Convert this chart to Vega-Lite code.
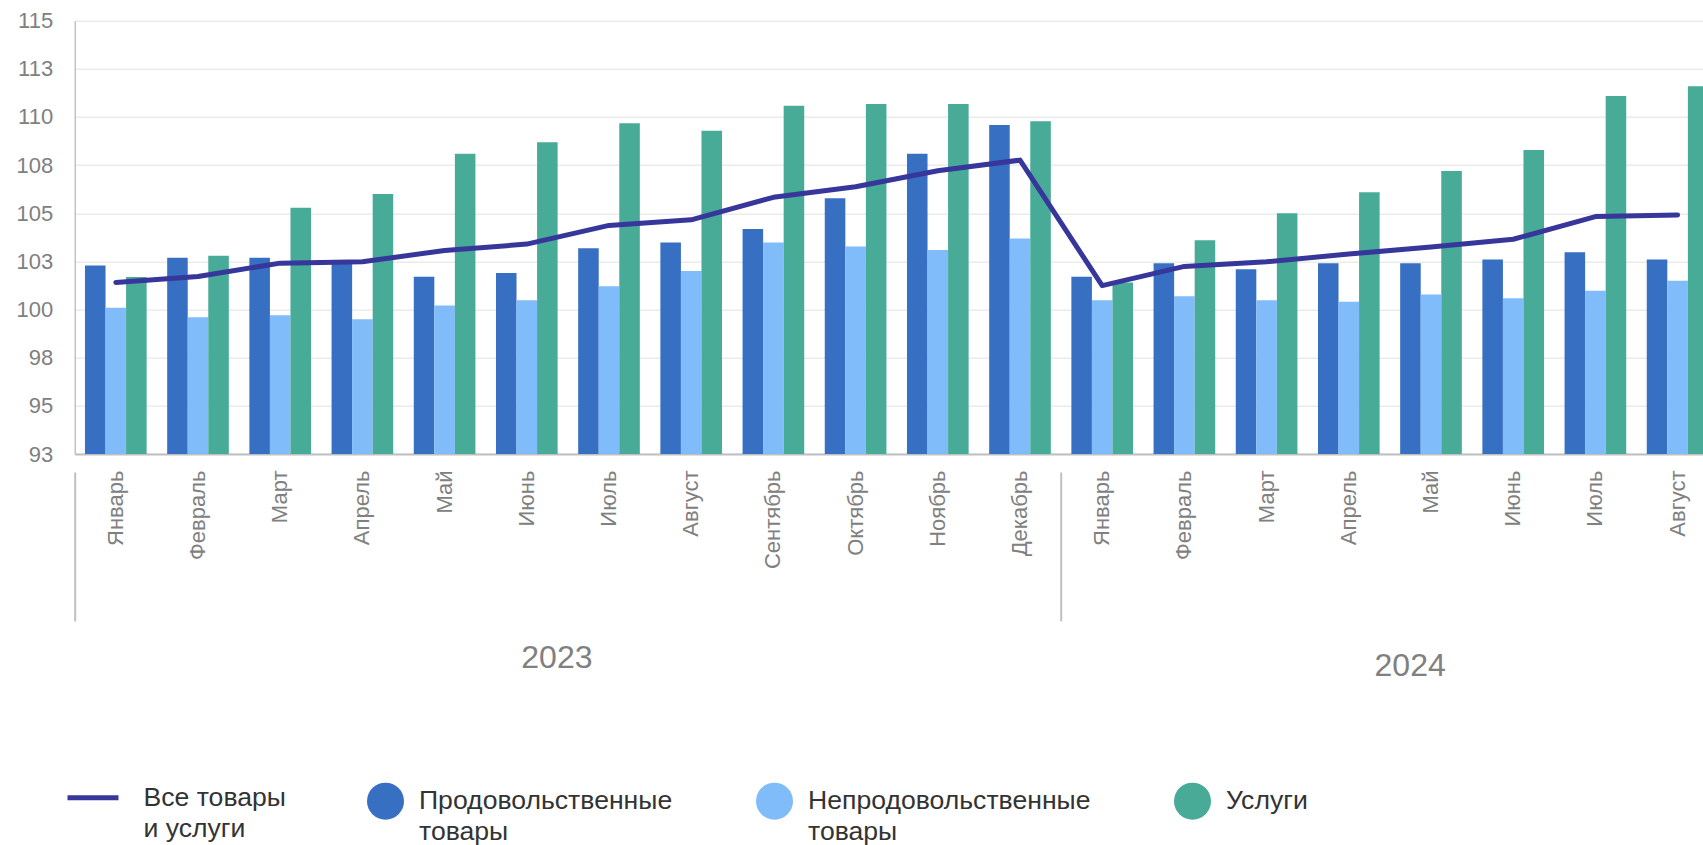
{
  "$schema": "https://vega.github.io/schema/vega-lite/v6.json",
  "autosize": {"type": "none"},
  "width": 1628.3,
  "height": 433.3,
  "padding": {"left": 74.7, "top": 20.7, "right": 0, "bottom": 391},
  "background": "white",
  "config": {"view": {"stroke": null}, "font": "Liberation Sans"},
  "data": {"values": [
    {"period": "Январь 2023", "series": "Все товары и услуги", "value": 101.41},
    {"period": "Январь 2023", "series": "Продовольственные товары", "value": 102.29},
    {"period": "Январь 2023", "series": "Непродовольственные товары", "value": 100.09},
    {"period": "Январь 2023", "series": "Услуги", "value": 101.69},
    {"period": "Февраль 2023", "series": "Все товары и услуги", "value": 101.72},
    {"period": "Февраль 2023", "series": "Продовольственные товары", "value": 102.69},
    {"period": "Февраль 2023", "series": "Непродовольственные товары", "value": 99.6},
    {"period": "Февраль 2023", "series": "Услуги", "value": 102.79},
    {"period": "Март 2023", "series": "Все товары и услуги", "value": 102.41},
    {"period": "Март 2023", "series": "Продовольственные товары", "value": 102.69},
    {"period": "Март 2023", "series": "Непродовольственные товары", "value": 99.71},
    {"period": "Март 2023", "series": "Услуги", "value": 105.29},
    {"period": "Апрель 2023", "series": "Все товары и услуги", "value": 102.48},
    {"period": "Апрель 2023", "series": "Продовольственные товары", "value": 102.45},
    {"period": "Апрель 2023", "series": "Непродовольственные товары", "value": 99.5},
    {"period": "Апрель 2023", "series": "Услуги", "value": 106.0},
    {"period": "Май 2023", "series": "Все товары и услуги", "value": 103.07},
    {"period": "Май 2023", "series": "Продовольственные товары", "value": 101.71},
    {"period": "Май 2023", "series": "Непродовольственные товары", "value": 100.21},
    {"period": "Май 2023", "series": "Услуги", "value": 108.09},
    {"period": "Июнь 2023", "series": "Все товары и услуги", "value": 103.4},
    {"period": "Июнь 2023", "series": "Продовольственные товары", "value": 101.9},
    {"period": "Июнь 2023", "series": "Непродовольственные товары", "value": 100.48},
    {"period": "Июнь 2023", "series": "Услуги", "value": 108.69},
    {"period": "Июль 2023", "series": "Все товары и услуги", "value": 104.37},
    {"period": "Июль 2023", "series": "Продовольственные товары", "value": 103.19},
    {"period": "Июль 2023", "series": "Непродовольственные товары", "value": 101.21},
    {"period": "Июль 2023", "series": "Услуги", "value": 109.67},
    {"period": "Август 2023", "series": "Все товары и услуги", "value": 104.66},
    {"period": "Август 2023", "series": "Продовольственные товары", "value": 103.48},
    {"period": "Август 2023", "series": "Непродовольственные товары", "value": 102.0},
    {"period": "Август 2023", "series": "Услуги", "value": 109.28},
    {"period": "Сентябрь 2023", "series": "Все товары и услуги", "value": 105.83},
    {"period": "Сентябрь 2023", "series": "Продовольственные товары", "value": 104.19},
    {"period": "Сентябрь 2023", "series": "Непродовольственные товары", "value": 103.48},
    {"period": "Сентябрь 2023", "series": "Услуги", "value": 110.59},
    {"period": "Октябрь 2023", "series": "Все товары и услуги", "value": 106.38},
    {"period": "Октябрь 2023", "series": "Продовольственные товары", "value": 105.78},
    {"period": "Октябрь 2023", "series": "Непродовольственные товары", "value": 103.28},
    {"period": "Октябрь 2023", "series": "Услуги", "value": 110.67},
    {"period": "Ноябрь 2023", "series": "Все товары и услуги", "value": 107.21},
    {"period": "Ноябрь 2023", "series": "Продовольственные товары", "value": 108.09},
    {"period": "Ноябрь 2023", "series": "Непродовольственные товары", "value": 103.09},
    {"period": "Ноябрь 2023", "series": "Услуги", "value": 110.67},
    {"period": "Декабрь 2023", "series": "Все товары и услуги", "value": 107.76},
    {"period": "Декабрь 2023", "series": "Продовольственные товары", "value": 109.59},
    {"period": "Декабрь 2023", "series": "Непродовольственные товары", "value": 103.69},
    {"period": "Декабрь 2023", "series": "Услуги", "value": 109.78},
    {"period": "Январь 2024", "series": "Все товары и услуги", "value": 101.24},
    {"period": "Январь 2024", "series": "Продовольственные товары", "value": 101.71},
    {"period": "Январь 2024", "series": "Непродовольственные товары", "value": 100.48},
    {"period": "Январь 2024", "series": "Услуги", "value": 101.4},
    {"period": "Февраль 2024", "series": "Все товары и услуги", "value": 102.24},
    {"period": "Февраль 2024", "series": "Продовольственные товары", "value": 102.4},
    {"period": "Февраль 2024", "series": "Непродовольственные товары", "value": 100.69},
    {"period": "Февраль 2024", "series": "Услуги", "value": 103.6},
    {"period": "Март 2024", "series": "Все товары и услуги", "value": 102.48},
    {"period": "Март 2024", "series": "Продовольственные товары", "value": 102.1},
    {"period": "Март 2024", "series": "Непродовольственные товары", "value": 100.48},
    {"period": "Март 2024", "series": "Услуги", "value": 105.0},
    {"period": "Апрель 2024", "series": "Все товары и услуги", "value": 102.88},
    {"period": "Апрель 2024", "series": "Продовольственные товары", "value": 102.4},
    {"period": "Апрель 2024", "series": "Непродовольственные товары", "value": 100.4},
    {"period": "Апрель 2024", "series": "Услуги", "value": 106.09},
    {"period": "Май 2024", "series": "Все товары и услуги", "value": 103.25},
    {"period": "Май 2024", "series": "Продовольственные товары", "value": 102.4},
    {"period": "Май 2024", "series": "Непродовольственные товары", "value": 100.78},
    {"period": "Май 2024", "series": "Услуги", "value": 107.19},
    {"period": "Июнь 2024", "series": "Все товары и услуги", "value": 103.65},
    {"period": "Июнь 2024", "series": "Продовольственные товары", "value": 102.6},
    {"period": "Июнь 2024", "series": "Непродовольственные товары", "value": 100.59},
    {"period": "Июнь 2024", "series": "Услуги", "value": 108.28},
    {"period": "Июль 2024", "series": "Все товары и услуги", "value": 104.83},
    {"period": "Июль 2024", "series": "Продовольственные товары", "value": 102.98},
    {"period": "Июль 2024", "series": "Непродовольственные товары", "value": 100.98},
    {"period": "Июль 2024", "series": "Услуги", "value": 111.09},
    {"period": "Август 2024", "series": "Все товары и услуги", "value": 104.91},
    {"period": "Август 2024", "series": "Продовольственные товары", "value": 102.6},
    {"period": "Август 2024", "series": "Непродовольственные товары", "value": 101.5},
    {"period": "Август 2024", "series": "Услуги", "value": 111.59}
  ]},
  "layer": [
    {
      "layer": [
        {
          "transform": [{"filter": "datum.series != 'Все товары и услуги'"}],
          "mark": {"type": "bar"},
          "encoding": {
            "x": {
              "field": "period", "type": "nominal",
              "scale": {
                "domain": ["Январь 2023", "Февраль 2023", "Март 2023", "Апрель 2023", "Май 2023", "Июнь 2023", "Июль 2023", "Август 2023", "Сентябрь 2023", "Октябрь 2023", "Ноябрь 2023", "Декабрь 2023", "Январь 2024", "Февраль 2024", "Март 2024", "Апрель 2024", "Май 2024", "Июнь 2024", "Июль 2024", "Август 2024"],
                "range": [0, 1644], "paddingInner": 0.25, "paddingOuter": 0.125
              },
              "axis": {
                "title": null, "labelExpr": "split(datum.value, ' ')[0]", "labelAngle": -90,
                "labelFontSize": 22, "labelColor": "#808080", "labelFont": "Liberation Sans",
                "ticks": false, "tickSize": 0, "labelPadding": 16, "domainColor": "#bfbfbf", "domainWidth": 2,
                "grid": false, "labelOverlap": false
              }
            },
            "xOffset": {
              "field": "series", "type": "nominal",
              "scale": {"domain": ["Продовольственные товары", "Непродовольственные товары", "Услуги"], "paddingInner": 0, "paddingOuter": 0}
            },
            "y": {
              "field": "value", "type": "quantitative", "stack": null,
              "scale": {"domain": [92.5, 115], "nice": false, "zero": false},
              "axis": {
                "title": null, "values": [92.5, 95, 97.5, 100, 102.5, 105, 107.5, 110, 112.5, 115], "format": ".0f",
                "labelFontSize": 22, "labelColor": "#808080", "labelFont": "Liberation Sans",
                "ticks": false, "tickSize": 0, "labelPadding": 22, "domainColor": "#a6a6a6", "domainWidth": 1,
                "gridColor": "#ebebeb", "gridWidth": 1.5
              }
            },
            "y2": {"datum": 92.5},
            "color": {
              "field": "series", "type": "nominal",
              "scale": {"domain": ["Продовольственные товары", "Непродовольственные товары", "Услуги"], "range": ["#376FC2", "#80BBFA", "#47AB97"]},
              "legend": {
                "orient": "none", "legendX": 292.3, "legendY": 761.5, "direction": "horizontal", "title": null,
                "symbolType": "circle", "symbolSize": 1369, "symbolStrokeWidth": 0, "symbolOpacity": 1,
                "labelFontSize": 26.6, "labelFont": "Liberation Sans", "labelColor": "#333333", "labelOffset": 15,
                "columnPadding": 83, "labelLimit": 500, "padding": 0,
                "labelExpr": "datum.label == 'Продовольственные товары' ? ['Продовольственные', '\u00a0товары'] : datum.label == 'Непродовольственные товары' ? ['Непродовольственные', 'товары'] : [datum.label, '\u00a0']",
                "encode": {"labels": {"update": {"lineHeight": {"value": 31}}}}
              }
            }
          }
        },
        {
          "transform": [{"filter": "datum.series == 'Все товары и услуги'"}],
          "mark": {"type": "line", "strokeWidth": 5, "strokeCap": "round", "strokeJoin": "round"},
          "encoding": {
            "x": {"field": "period", "type": "nominal"},
            "y": {"field": "value", "type": "quantitative"},
            "stroke": {
              "field": "series", "type": "nominal",
              "scale": {"domain": ["Все товары и услуги"], "range": ["#36369B"]},
              "legend": {
                "orient": "none", "legendX": -9.7, "legendY": 749, "title": null,
                "symbolType": "stroke", "symbolSize": 2601, "symbolStrokeWidth": 5,
                "labelFontSize": 26.6, "labelFont": "Liberation Sans", "labelColor": "#333333", "labelOffset": 22.5,
                "labelLimit": 500, "padding": 0,
                "labelExpr": "['Все товары', 'и услуги']",
                "encode": {"labels": {"update": {"lineHeight": {"value": 31}}}}
              }
            }
          }
        }
      ]
    },
    {
      "data": {"values": [{"year": "2023", "start": 0}, {"year": "2024", "start": 12}]},
      "mark": {"type": "rule", "opacity": 0},
      "encoding": {
        "x": {
          "field": "start", "type": "quantitative",
          "scale": {"domain": [0, 20], "range": [0, 1644], "nice": false, "zero": false},
          "axis": {
            "orient": "bottom", "offset": 18, "values": [0, 5.86, 12, 16.24], "domain": false, "grid": false, "title": null,
            "ticks": true, "tickSize": 149, "tickWidth": 2, "tickColor": "#c0c0c0",
            "tickOpacity": {"condition": {"test": "datum.value == 0 || datum.value == 12", "value": 1}, "value": 0},
            "labelExpr": "datum.value > 1 && datum.value < 11 ? '2023' : datum.value > 13 ? '2024' : ''",
            "labelFontSize": 32, "labelColor": "#808080", "labelFont": "Liberation Sans",
            "labelPadding": {"condition": {"test": "datum.value > 13", "value": 29}, "value": 21},
            "labelFlush": false, "labelOverlap": false, "labelBaseline": "top"
          }
        }
      }
    }
  ],
  "resolve": {"scale": {"x": "independent"}}
}
